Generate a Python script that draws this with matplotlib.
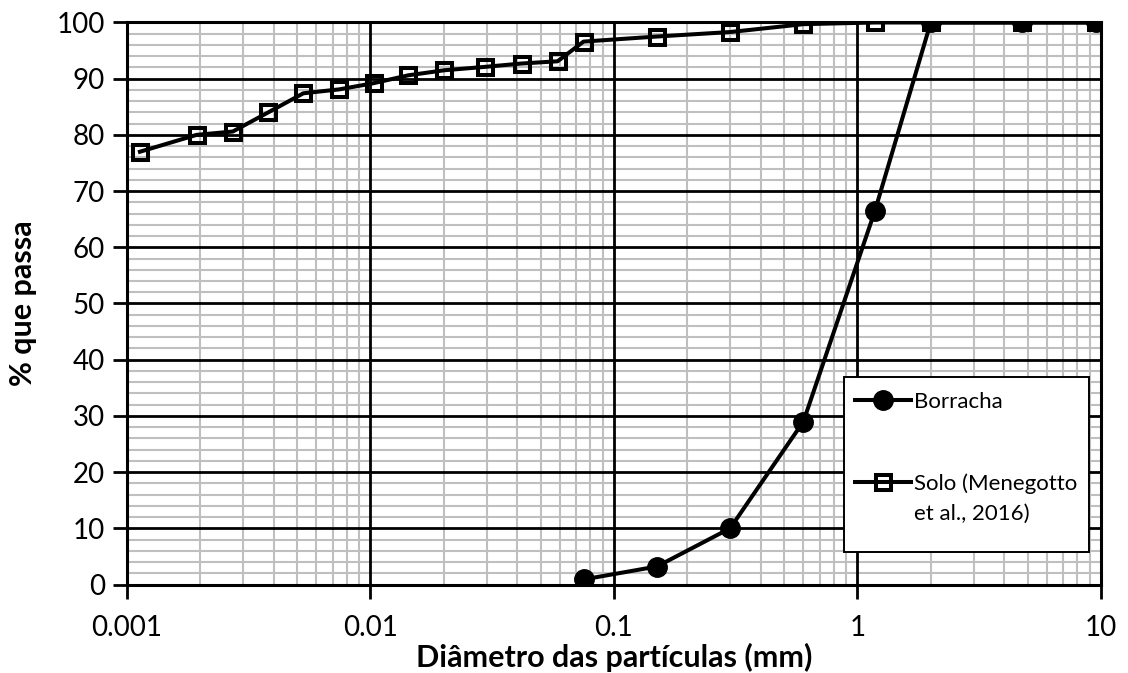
import numpy as np
import matplotlib.pyplot as plt
from matplotlib.patches import Rectangle
from matplotlib.ticker import LogLocator, FixedLocator, NullFormatter

# Curvas granulométricas
borracha_d = [0.075, 0.15, 0.3, 0.6, 1.18, 2.0, 4.75, 9.5]
borracha_p = [0.9, 3.2, 10.0, 29.0, 66.5, 100, 100, 100]

solo_d = [0.00113, 0.00193, 0.00272, 0.0038, 0.0053, 0.00745, 0.0103, 0.0143,
          0.0201, 0.0295, 0.0418, 0.0587, 0.075, 0.15, 0.3, 0.6, 1.18, 2.0,
          4.75, 9.5]
solo_p = [77.0, 80.0, 80.6, 84.0, 87.4, 88.1, 89.2, 90.6, 91.5, 92.1, 92.7,
          93.1, 96.6, 97.5, 98.3, 99.7, 100, 100, 100, 100]

x_ticks = [0.001, 0.01, 0.1, 1, 10]
x_labels = ['0.001', '0.01', '0.1', '1', '10']
y_ticks = list(range(0, 101, 10))

plt.rcParams['font.family'] = 'Lato'

fig = plt.figure(figsize=(11.28, 6.73), dpi=100)
ax = fig.add_axes([0.1126, 0.1315, 0.8634, 0.8351])

solo, = ax.plot(solo_d, solo_p, color='black', lw=2.9, marker='s', ms=10.8,
                mfc='none', mec='black', mew=2.9, label='Solo (Menegotto',
                zorder=4)
borr, = ax.plot(borracha_d, borracha_p, color='black', lw=2.9, marker='o',
                ms=14, mfc='black', mec='black', label='Borracha', zorder=5)

ax.set_xscale('log')
ax.set_xlim(0.001, 10)
ax.set_ylim(0, 100)

ax.xaxis.set_major_locator(FixedLocator(x_ticks))
ax.set_xticklabels(x_labels)
ax.xaxis.set_minor_locator(LogLocator(base=10, subs=np.arange(2, 10)))
ax.xaxis.set_minor_formatter(NullFormatter())
ax.set_yticks(y_ticks)
ax.set_yticks(np.arange(0, 101, 2), minor=True)

# grade secundária cinza, grade principal preta por cima
ax.grid(which='minor', color='#bfbfbf', lw=1.5, zorder=0)
for xv in x_ticks:
    ax.axvline(xv, color='black', lw=2.0, zorder=1.5)
for yv in y_ticks:
    ax.axhline(yv, color='black', lw=2.0, zorder=1.5)
ax.set_axisbelow(True)

for s in ax.spines.values():
    s.set_linewidth(2.2)
    s.set_color('black')

ax.tick_params(which='major', direction='out', length=10, width=2.0,
               labelsize=20)
ax.tick_params(axis='x', pad=12)
ax.tick_params(axis='y', pad=6)
ax.tick_params(which='minor', length=0)

ax.set_xlabel('Diâmetro das partículas (mm)', fontsize=22, fontweight='bold',
              labelpad=1)
ax.set_ylabel('% que passa', fontsize=22, fontweight='bold', labelpad=14)

# legenda
box = Rectangle((0.7361, 0.0584), 0.2515, 0.3114, transform=ax.transAxes,
                facecolor='white', edgecolor='black', lw=1.4, zorder=6)
ax.add_patch(box)
leg = ax.legend(handles=[borr, solo], loc='upper left',
                bbox_to_anchor=(0.7361 - 0.004, 0.3698), frameon=False,
                fontsize=16, borderpad=0.68, labelspacing=2.76,
                handlelength=2.5, handletextpad=0.15, borderaxespad=0)
leg.set_zorder(7)

fig.canvas.draw()
bb = leg.get_texts()[1].get_window_extent()
W, H = fig.get_size_inches() * fig.dpi
fig.text(bb.x0 / W, (bb.y0 - 30) / H, 'et al., 2016)', fontsize=16,
         ha='left', va='bottom', zorder=8)

fig.savefig('out.png', dpi=100)
